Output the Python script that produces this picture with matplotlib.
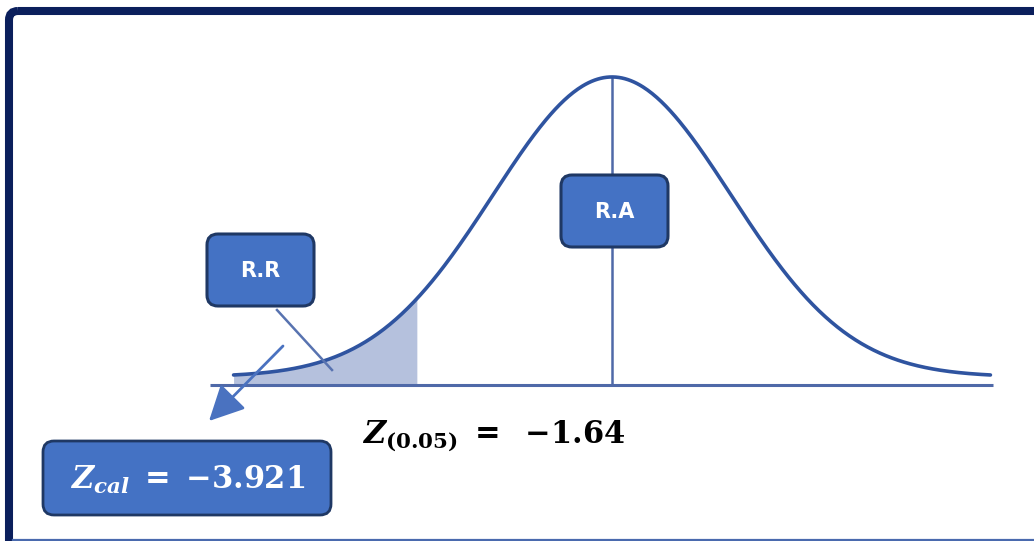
import matplotlib.pyplot as plt
import numpy as np
from matplotlib.patches import FancyBboxPatch

# test values
z_crit = -1.64
z_cal = -3.921
alpha = "0.05"
z_span = 3.18

plt.rcParams['mathtext.fontset'] = 'dejavuserif'

W, H = 1034, 541
fig = plt.figure(figsize=(W / 100, H / 100), dpi=100)
fig.patch.set_facecolor('white')

# curve axes, x in z units and y as density
ax = fig.add_axes([0, 0, 1, 1])
x_scale = 119.0
y_scale = 751.8
base = -0.0108
ax.set_xlim(-612 / x_scale, (W - 612) / x_scale)
ax.set_ylim(base - 156 / y_scale, 0.3989 + 77 / y_scale)
ax.axis('off')


def normal_pdf(v):
    return np.exp(-v ** 2 / 2) / np.sqrt(2 * np.pi)


z = np.linspace(-z_span, z_span, 500)
z_tail = np.linspace(-z_span, z_crit, 200)

curve_col = '#2f54a0'
line_col = '#4f69a8'

# rejection tail
ax.fill_between(z_tail, normal_pdf(z_tail), base, color='#b5c1dd', lw=0, zorder=1)
# axis line and centre line
ax.plot([-3.38, z_span + 0.02], [base, base], color=line_col, lw=2.2, zorder=2,
        solid_capstyle='butt')
ax.plot([0, 0], [base, normal_pdf(0)], color=line_col, lw=1.8, zorder=2)
ax.plot(z, normal_pdf(z), color=curve_col, lw=2.6, zorder=3, solid_capstyle='round')

# overlay axes in pixel units for boxes and labels
lay = fig.add_axes([0, 0, 1, 1])
lay.set_xlim(0, W)
lay.set_ylim(H, 0)
lay.axis('off')
lay.patch.set_alpha(0)

box_fc = '#4472c4'
box_ec = '#1f3864'


def label_box(x0, y0, x1, y1, lw=2.2):
    patch = FancyBboxPatch((x0, y0), x1 - x0, y1 - y0,
                           boxstyle='round,pad=0,rounding_size=11',
                           fc=box_fc, ec=box_ec, lw=lw, zorder=5)
    lay.add_patch(patch)


def num(v, digits):
    # unary minus, no operator spacing
    s = '%.*f' % (digits, v)
    return s.replace('-', '{-}')


# pointer from R.R box into the tail
lay.plot([277, 332], [310, 370], color='#5873b0', lw=1.8, zorder=4)
lay.annotate('', xy=(209, 421), xytext=(283, 346),
             arrowprops=dict(arrowstyle='-|>,head_length=0.9,head_width=0.45',
                             color='#4a72c0', lw=2.0, mutation_scale=24,
                             shrinkA=0, shrinkB=0), zorder=4)

label_box(207, 234, 314, 306)
lay.text(260, 271, 'R.R', color='white', fontsize=15, fontweight='bold',
         ha='center', va='center', family='DejaVu Sans', zorder=6)

label_box(561, 175, 668, 247)
lay.text(614, 212, 'R.A', color='white', fontsize=15, fontweight='bold',
         ha='center', va='center', family='DejaVu Sans', zorder=6)

label_box(43, 441, 331, 515, lw=2.0)
lay.text(188, 480, r'$\mathbfit{Z}_{\mathbfit{cal}}\ \mathbf{=}\ \mathbf{%s}$' % num(z_cal, 3),
         color='white', fontsize=22, ha='center', va='center', zorder=6)

lay.text(494, 436, r'$\mathbfit{Z}_{\mathbf{(%s)}}\ \mathbf{=}\ \ \mathbf{%s}$' % (alpha, num(z_crit, 2)),
         color='black', fontsize=22, ha='center', va='center', zorder=6)

# outer frame
frame = FancyBboxPatch((9, 11), 1200, 700, boxstyle='round,pad=0,rounding_size=9',
                       fc='none', ec='#0b1f5c', lw=5.8, zorder=7)
lay.add_patch(frame)
lay.plot([13, W], [539.5, 539.5], color='#4a6aae', lw=1.6, zorder=7)

fig.savefig('out.png', dpi=100, facecolor='white')
